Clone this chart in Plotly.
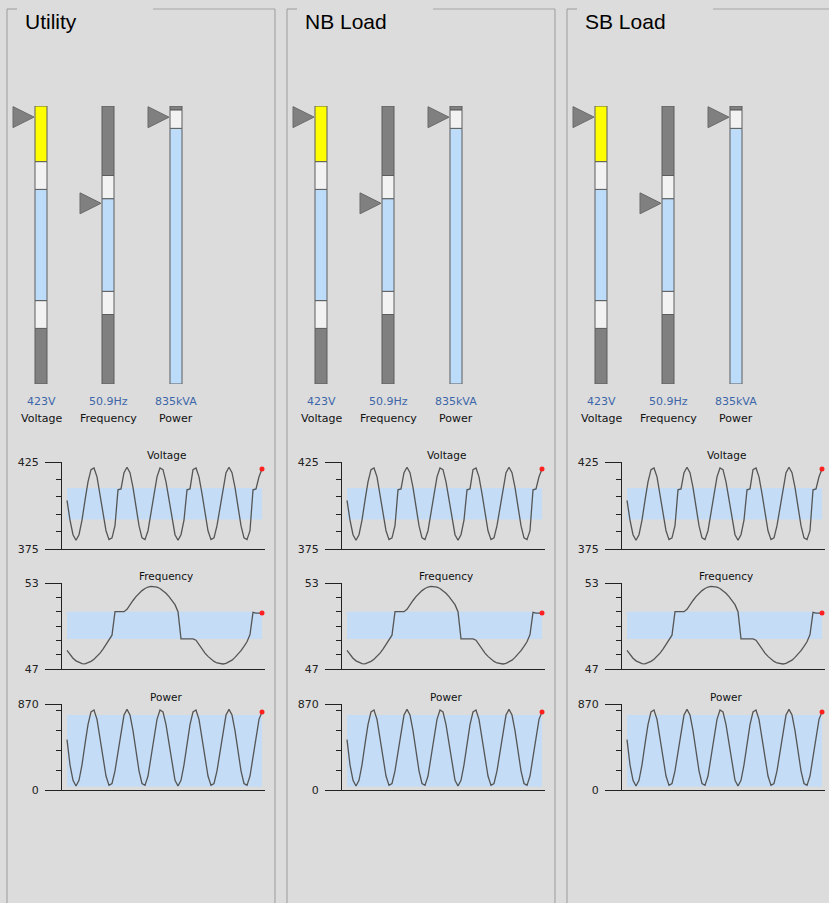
import plotly.graph_objects as go

W, H = 829, 903

panel_titles = ["Utility", "NB Load", "SB Load"]

# gauges: name, unit, current value, scale, segment edges and colours
gauge_names = ["Voltage", "Frequency", "Power"]
gauge_units = ["V", "Hz", "kVA"]
gauge_values = [423, 50.9, 835]
voltage_edges = [375, 385, 390, 410, 415, 425]
voltage_colors = ["#808080", "#f2f2f2", "#bddcfa", "#f2f2f2", "#ffff00"]
frequency_edges = [47, 48.5, 49, 51, 51.5, 53]
frequency_colors = ["#808080", "#f2f2f2", "#bddcfa", "#f2f2f2", "#808080"]
power_edges = [0, 800, 858, 870]
power_colors = ["#bddcfa", "#f2f2f2", "#808080"]

# trend charts (same samples in every panel)
voltage_trace = [403, 391.6, 383.2, 380, 383.2, 391.6, 402.9, 413.6, 420.6, 421.6,
                 416.5, 406.8, 395.2, 385.5, 380.4, 381.4, 388.4, 409, 409.5, 418.9,
                 422, 418.9, 410.4, 399.1, 388.4, 381.4, 380.4, 385.5, 395.2, 406.8,
                 416.5, 421.6, 420.6, 413.6, 402.9, 391.6, 383.2, 380, 383.2, 391.6,
                 409, 409.5, 420.6, 421.6, 416.5, 406.8, 395.2, 385.5, 380.4, 381.4,
                 388.4, 399.1, 410.4, 418.9, 422, 418.9, 410.4, 399.1, 388.4, 381.4,
                 380.4, 385.5, 409, 409.5, 416.5, 421]
frequency_trace = [48.3, 48.0, 47.75, 47.57, 47.45, 47.38, 47.36, 47.42, 47.53, 47.68,
                   47.88, 48.11, 48.39, 48.69, 49.01, 49.36, 51.0, 51.0, 51.0, 51.0,
                   51.16, 51.49, 51.78, 52.05, 52.28, 52.47, 52.62, 52.72, 52.76, 52.76,
                   52.71, 52.62, 52.47, 52.28, 52.05, 51.78, 51.49, 51.0, 49.1, 49.1,
                   49.1, 49.1, 49.1, 49.01, 48.69, 48.39, 48.11, 47.88, 47.68, 47.53,
                   47.42, 47.36, 47.35, 47.39, 47.49, 47.62, 47.81, 48.03, 48.28, 48.58,
                   48.9, 49.4, 50.95, 50.9, 50.9, 50.9]
power_trace = [510, 255, 98, 40, 98, 255, 464, 662, 790, 809,
               715, 534, 322, 141, 47, 66, 194, 392, 601, 758,
               816, 758, 601, 392, 194, 66, 47, 141, 322, 534,
               715, 809, 790, 662, 464, 255, 98, 40, 98, 255,
               464, 662, 790, 809, 715, 534, 322, 141, 47, 66,
               194, 392, 601, 758, 816, 758, 601, 392, 194, 66,
               47, 141, 322, 534, 715, 790]
voltage_band = [392, 410]
frequency_band = [49.1, 51.0]
power_band = [33, 759]
voltage_ticks = [375, 425]
voltage_minor = [385, 395, 405, 415]
frequency_ticks = [47, 53]
frequency_minor = [48, 49, 50, 51, 52]
power_ticks = [0, 870]
power_minor = [200, 400, 600, 800]

gauges = [
    (voltage_edges, voltage_colors),
    (frequency_edges, frequency_colors),
    (power_edges, power_colors),
]
charts = [
    ("Voltage", voltage_trace, voltage_band, voltage_ticks, voltage_minor, 462, 549),
    ("Frequency", frequency_trace, frequency_band, frequency_ticks, frequency_minor, 583, 669),
    ("Power", power_trace, power_band, power_ticks, power_minor, 704, 790),
]

BG = "#dcdcdc"
INK = "#222222"
FRAME = "#a6a6a6"


def xf(px):
    return px / W


def yf(py):
    return 1 - py / H


fig = go.Figure()
layout = {}
shapes = []
annotations = []
axis_count = [0]


def new_axes():
    axis_count[0] += 1
    k = axis_count[0]
    sfx = "" if k == 1 else str(k)
    return k, "x" + sfx, "y" + sfx, "xaxis" + sfx, "yaxis" + sfx


def add_gauge(cx, edges, colors, value, name, unit):
    k, xr, yr, xa, ya = new_axes()
    lo, hi = edges[0], edges[-1]
    layout[xa] = dict(domain=[xf(cx - 30), xf(cx + 8)], range=[-30, 8], visible=False,
                      fixedrange=True)
    layout[ya] = dict(domain=[yf(384), yf(106)], range=[lo, hi], visible=False,
                      fixedrange=True)
    fig.add_trace(go.Bar(
        x=[0] * len(colors), y=[edges[i + 1] - edges[i] for i in range(len(colors))],
        base=edges[:-1], width=12, xaxis=xr, yaxis=yr,
        marker=dict(color=colors, line=dict(color="#5c5c5c", width=1)),
        showlegend=False, hoverinfo="skip"))
    h = (hi - lo) * 10.5 / 278
    fig.add_trace(go.Scatter(
        x=[-28, -28, -7, -28], y=[value + h, value - h, value, value + h],
        mode="lines", fill="toself", fillcolor="#808080",
        line=dict(color="#6a6a6a", width=1), xaxis=xr, yaxis=yr,
        showlegend=False, hoverinfo="skip"))
    annotations.append(dict(x=xf(cx), y=yf(401), text=f"{value}{unit}", showarrow=False,
                            xref="paper", yref="paper", xanchor="center", yanchor="middle",
                            font=dict(family="DejaVu Sans", size=11, color="#3d66a8")))
    annotations.append(dict(x=xf(cx), y=yf(418), text=name, showarrow=False,
                            xref="paper", yref="paper", xanchor="center", yanchor="middle",
                            font=dict(family="DejaVu Sans", size=11, color="#111111")))


def add_chart(dx, title, values, band, ticks, minor, top, bottom):
    k, xr, yr, xa, ya = new_axes()
    n = len(values)
    layout[xa] = dict(domain=[xf(62 + dx), xf(265 + dx)], range=[-5 / 3, 66],
                      showline=True, linecolor=INK, linewidth=1, ticks="",
                      showticklabels=False, showgrid=False, zeroline=False,
                      anchor=yr, fixedrange=True)
    layout[ya] = dict(domain=[yf(bottom), yf(top)], range=[ticks[0], ticks[-1]],
                      showline=True, linecolor=INK, linewidth=1, showgrid=False,
                      zeroline=False, tickmode="array", tickvals=ticks,
                      ticks="outside", ticklen=16, tickcolor=INK, tickwidth=1,
                      ticklabelstandoff=4,
                      tickfont=dict(family="DejaVu Sans", size=11, color=INK),
                      minor=dict(tickmode="array", tickvals=minor, ticks="outside",
                                 ticklen=5, tickcolor=INK, showgrid=False),
                      anchor=xr, fixedrange=True)
    shapes.append(dict(type="rect", xref=xr, yref=yr, x0=0, x1=n - 1, y0=band[0],
                       y1=band[1], fillcolor="#c4dcf5", line=dict(width=0),
                       layer="below"))
    fig.add_trace(go.Scatter(x=list(range(n)), y=values, mode="lines",
                             line=dict(color="#555555", width=1.3), xaxis=xr, yaxis=yr,
                             showlegend=False, hoverinfo="skip"))
    fig.add_trace(go.Scatter(x=[n - 1], y=[values[-1]], mode="markers",
                             marker=dict(color="#ff2020", size=5), xaxis=xr, yaxis=yr,
                             showlegend=False, hoverinfo="skip"))
    annotations.append(dict(x=xf(166 + dx), y=yf(top - 7), text=title, showarrow=False,
                            xref="paper", yref="paper", xanchor="center", yanchor="middle",
                            font=dict(family="DejaVu Sans", size=10.5, color="#111111")))


for p, ptitle in enumerate(panel_titles):
    dx = 280 * p
    # group box frame with a gap for the title
    for seg in [(7, 17), (153, 275)]:
        shapes.append(dict(type="line", xref="paper", yref="paper",
                           x0=xf(seg[0] + dx), x1=xf(seg[1] + dx), y0=yf(9), y1=yf(9),
                           line=dict(color=FRAME, width=1.2)))
    for xline in [7, 275]:
        shapes.append(dict(type="line", xref="paper", yref="paper",
                           x0=xf(xline + dx), x1=xf(xline + dx), y0=yf(9), y1=0,
                           line=dict(color=FRAME, width=1.2)))
    annotations.append(dict(x=xf(23 + dx), y=yf(21), text=ptitle, showarrow=False,
                            xref="paper", yref="paper", xanchor="left", yanchor="middle",
                            font=dict(family="Liberation Sans", size=21, color="#000000")))
    for g, cx in enumerate([41, 108, 176]):
        edges, colors = gauges[g]
        add_gauge(cx + dx, edges, colors, gauge_values[g], gauge_names[g], gauge_units[g])
    for c in charts:
        add_chart(dx, *c)

fig.update_layout(
    width=W, height=H,
    margin=dict(l=0, r=0, t=0, b=0, autoexpand=False),
    paper_bgcolor=BG, plot_bgcolor=BG,
    showlegend=False,
    barmode="overlay",
    shapes=shapes,
    annotations=annotations,
    **layout,
)

# pin the figure to the window's top-left corner (no default body margin)
page_fix = ("document.body.style.margin='0';"
            "document.documentElement.style.overflow='hidden';"
            "document.body.style.background='" + BG + "';"
            "var gd=document.getElementById('{plot_id}');"
            "gd.style.position='fixed';gd.style.top='0';gd.style.left='0';")
fig.write_html("out.html", config={"displayModeBar": False}, post_script=page_fix)
